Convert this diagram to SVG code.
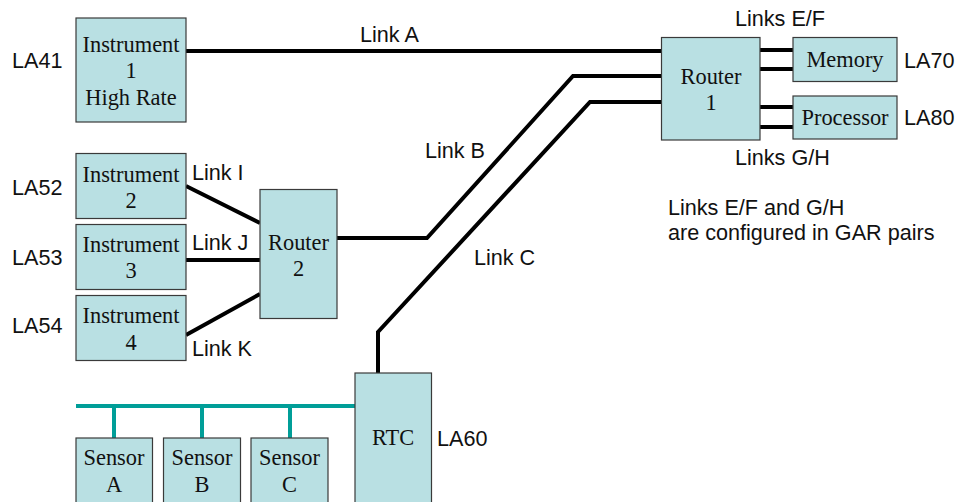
<svg xmlns="http://www.w3.org/2000/svg" width="959" height="502" viewBox="0 0 959 502">
<style>
.box{fill:#B9E0E3;stroke:#3a3a3a;stroke-width:1.2}
.st{font-family:"Liberation Serif","Times New Roman",serif;font-size:22.4px;fill:#111;text-anchor:middle}
.sn{font-family:"Liberation Sans",Arial,sans-serif;font-size:21.6px;fill:#111}
.ln{fill:none;stroke:#000;stroke-width:4}
.bus{fill:none;stroke:#009E98;stroke-width:4}
</style>
<rect width="959" height="502" fill="#fff"/>
<g id="connectors">
<polyline class="ln" points="186,51 662,51"/>
<polyline class="ln" points="337,238 427,238 573,76 662,76"/>
<polyline class="ln" points="378,373 378,332 590,102 662,102"/>
<polyline class="ln" points="186,186 260,223"/>
<polyline class="ln" points="184,260 260,260"/>
<polyline class="ln" points="186,335 260,294"/>
<polyline class="ln" points="760,50 793,50"/>
<polyline class="ln" points="760,69 793,69"/>
<polyline class="ln" points="760,107 793,107"/>
<polyline class="ln" points="760,127 793,127"/>
<polyline class="bus" points="76,406 355,406"/>
<polyline class="bus" points="114,406 114,438"/>
<polyline class="bus" points="202,406 202,438"/>
<polyline class="bus" points="290,406 290,438"/>
</g>
<g id="instrument1">
<rect class="box" x="76" y="18" width="110" height="104"/>
<text class="st" x="131" y="52">Instrument</text>
<text class="st" x="131" y="78">1</text>
<text class="st" x="131" y="105">High Rate</text>
</g>
<g id="instrument2">
<rect class="box" x="76" y="153.5" width="110" height="65"/>
<text class="st" x="131" y="182">Instrument</text>
<text class="st" x="131" y="208">2</text>
</g>
<g id="instrument3">
<rect class="box" x="76" y="224.5" width="110" height="65"/>
<text class="st" x="131" y="252">Instrument</text>
<text class="st" x="131" y="278">3</text>
</g>
<g id="instrument4">
<rect class="box" x="76" y="295.5" width="110" height="65"/>
<text class="st" x="131" y="323">Instrument</text>
<text class="st" x="131" y="350">4</text>
</g>
<g id="router2">
<rect class="box" x="260" y="189.5" width="77" height="129"/>
<text class="st" x="298.5" y="250">Router</text>
<text class="st" x="298.5" y="276">2</text>
</g>
<g id="router1">
<rect class="box" x="661.5" y="37.5" width="98.5" height="102.5"/>
<text class="st" x="711" y="83.5">Router</text>
<text class="st" x="711" y="110">1</text>
</g>
<g id="memory">
<rect class="box" x="793" y="37.5" width="104" height="44"/>
<text class="st" x="845" y="67">Memory</text>
</g>
<g id="processor">
<rect class="box" x="793" y="96" width="104" height="43"/>
<text class="st" x="845" y="125">Processor</text>
</g>
<g id="rtc">
<rect class="box" x="355" y="373" width="76.5" height="135"/>
<text class="st" x="393" y="445">RTC</text>
</g>
<g id="sensorA">
<rect class="box" x="76" y="438" width="76.5" height="70"/>
<text class="st" x="114" y="465">Sensor</text>
<text class="st" x="114" y="492">A</text>
</g>
<g id="sensorB">
<rect class="box" x="163.5" y="438" width="77" height="70"/>
<text class="st" x="202" y="465">Sensor</text>
<text class="st" x="202" y="492">B</text>
</g>
<g id="sensorC">
<rect class="box" x="251" y="438" width="77" height="70"/>
<text class="st" x="289.5" y="465">Sensor</text>
<text class="st" x="289.5" y="492">C</text>
</g>
<g id="labels">
<text class="sn" x="12" y="68">LA41</text>
<text class="sn" x="12" y="195">LA52</text>
<text class="sn" x="12" y="265">LA53</text>
<text class="sn" x="12" y="333">LA54</text>
<text class="sn" x="437" y="446">LA60</text>
<text class="sn" x="904" y="68">LA70</text>
<text class="sn" x="904" y="125">LA80</text>
<text class="sn" x="360" y="42">Link A</text>
<text class="sn" x="425" y="158">Link B</text>
<text class="sn" x="474" y="265">Link C</text>
<text class="sn" x="192" y="180">Link I</text>
<text class="sn" x="192" y="250">Link J</text>
<text class="sn" x="192" y="356">Link K</text>
<text class="sn" x="735" y="26">Links E/F</text>
<text class="sn" x="735" y="165">Links G/H</text>
<text class="sn" x="668" y="215">Links E/F and G/H</text>
<text class="sn" x="668" y="240">are configured in GAR pairs</text>
</g>
</svg>
